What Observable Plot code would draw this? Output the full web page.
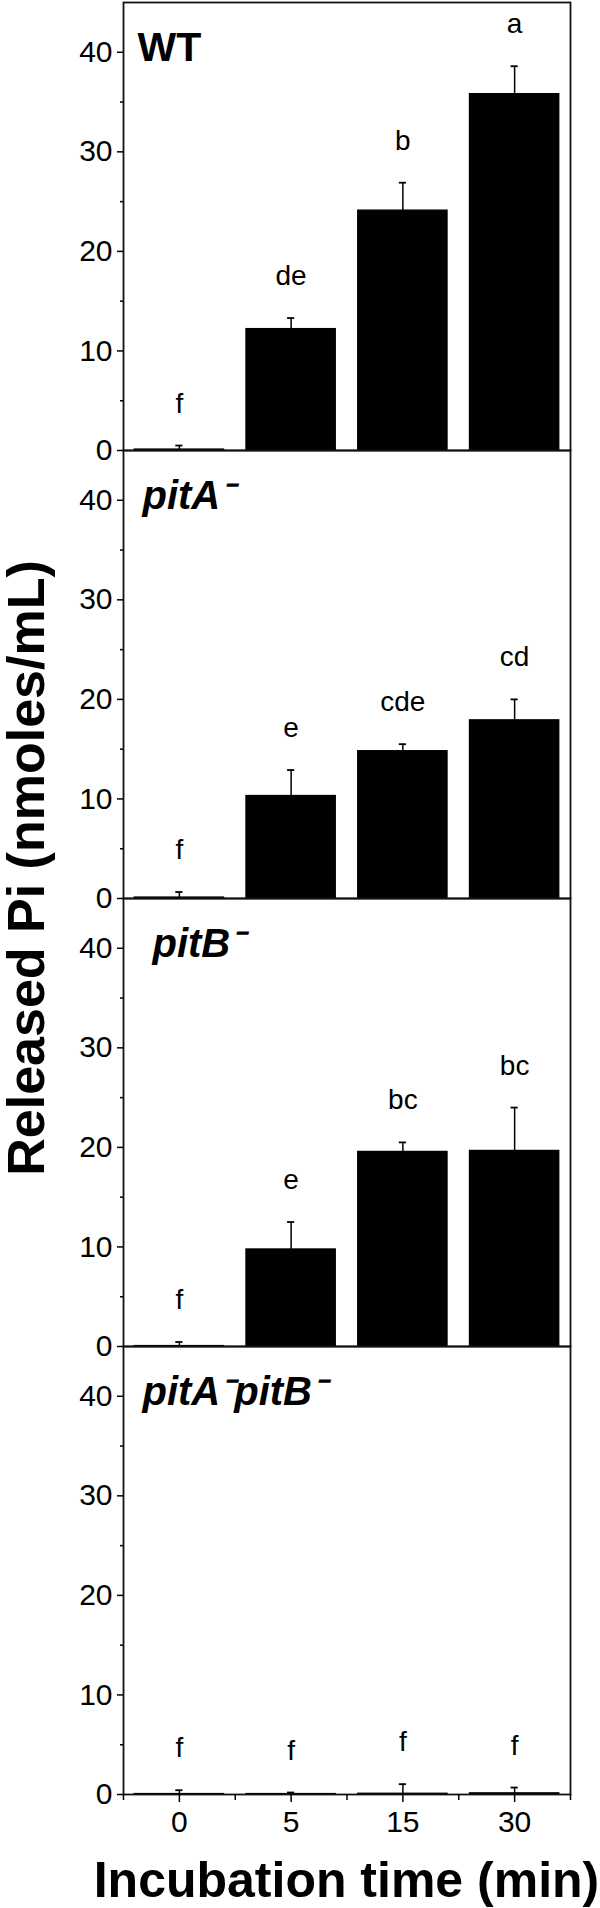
<!DOCTYPE html>
<html>
<head>
<meta charset="utf-8">
<script src="https://cdn.jsdelivr.net/npm/d3@7"></script>
<script src="https://cdn.jsdelivr.net/npm/@observablehq/plot@0.6"></script>
<style>
  html, body { margin: 0; padding: 0; background: #fff; }
  #chart { width: 600px; height: 1908px; }
</style>
</head>
<body>
<div id="chart"></div>
<script>
// ---- data ----
const strains = ["WT", "pitA", "pitB", "pitApitB"];
const strainLabels = ["WT", "pitA\u207B", "pitB\u207B", "pitA\u207BpitB\u207B"];
const times = ["0", "5", "15", "30"];

const wtMean = [0.1, 12.2, 24.1, 35.8];
const wtErr = [0.4, 1.1, 2.8, 2.8];
const wtLetters = ["f", "de", "b", "a"];

const pitAMean = [0.1, 10.3, 14.8, 17.9];
const pitAErr = [0.55, 2.6, 0.7, 2.1];
const pitALetters = ["f", "e", "cde", "cd"];

const pitBMean = [0.05, 9.75, 19.55, 19.65];
const pitBErr = [0.4, 2.75, 0.95, 4.35];
const pitBLetters = ["f", "e", "bc", "bc"];

const dblMean = [0.05, 0.05, 0.08, 0.12];
const dblErr = [0.38, 0.15, 0.96, 0.58];
const dblLetters = ["f", "f", "f", "f"];

const yTicks = [0, 10, 20, 30, 40];
const yMinorTicks = [5, 15, 25, 35];
const yTitle = "Released Pi (nmoles/mL)";
const xTitle = "Incubation time (min)";

// ---- table built from the arrays ----
const means = [wtMean, pitAMean, pitBMean, dblMean];
const errs = [wtErr, pitAErr, pitBErr, dblErr];
const letters = [wtLetters, pitALetters, pitBLetters, dblLetters];
const rows = [];
strains.forEach((s, k) => times.forEach((t, i) => rows.push({
  strain: s, i, time: t, mean: means[k][i], err: errs[k][i], letter: letters[k][i]
})));
const panels = strains.map((s, k) => ({strain: s, label: strainLabels[k]}));

const FONT = "'Liberation Sans', Arial, Helvetica, sans-serif";
const halfBar = 0.4, halfCap = 0.032;
const indices = times.map((t, i) => i);
const bounds = [-0.5, ...indices.map(i => i + 0.5)];

const labelStyle = {fy: "strain", text: "label", frameAnchor: "top-left", textAnchor: "start",
  lineAnchor: "bottom", dy: 58, fontSize: 40, fontWeight: "bold", fill: "black"};

const svg = Plot.plot({
  width: 600,
  height: 1908,
  marginLeft: 123,
  marginRight: 30,
  marginTop: 1,
  marginBottom: 114,
  style: {fontFamily: FONT, background: "white", color: "black", overflow: "visible"},
  x: {domain: [-0.5, times.length - 0.5]},
  y: {domain: [0, 45]},
  fy: {domain: strains, padding: 0, axis: null},
  marks: [
    Plot.rect(rows, {x1: d => d.i - halfBar, x2: d => d.i + halfBar, y1: 0, y2: "mean", fy: "strain",
      fill: "black", stroke: "black", strokeWidth: 1.2}),
    Plot.ruleX(rows, {x: "i", y1: "mean", y2: d => d.mean + d.err, fy: "strain", stroke: "black", strokeWidth: 1.5}),
    Plot.ruleY(rows, {y: d => d.mean + d.err, x1: d => d.i - halfCap, x2: d => d.i + halfCap, fy: "strain",
      stroke: "black", strokeWidth: 1.8}),
    Plot.text(rows, {x: "i", y: d => d.mean + d.err, text: "letter", fy: "strain",
      lineAnchor: "bottom", dy: -33, fontSize: 28, fill: "black"}),
    Plot.text(panels.filter(d => d.strain === "WT"), {...labelStyle, dx: 14, fontSize: 41}),
    Plot.text(panels.filter(d => d.strain === "pitB"), {...labelStyle, dx: 29, fontStyle: "italic"}),
    Plot.text(panels.filter(d => d.strain === "pitA" || d.strain === "pitApitB"),
      {...labelStyle, dx: 19, fontStyle: "italic"}),
    Plot.frame({stroke: "#111", strokeWidth: 1.8}),
    Plot.axisY({ticks: yTicks, tickSize: 6, tickPadding: 5, fontSize: 30, strokeWidth: 1.5, label: null}),
    Plot.axisY({ticks: yMinorTicks, tickSize: 3, tickFormat: () => "", strokeWidth: 1.5, label: null}),
    Plot.axisX({ticks: indices, tickFormat: i => times[i], tickSize: 8, tickPadding: 8, fontSize: 30,
      strokeWidth: 1.5, label: null}),
    Plot.axisX({ticks: bounds, tickSize: 6, tickFormat: () => "", strokeWidth: 1.5, label: null})
  ]
});

const root = d3.select(svg);
root.append("text")
  .attr("transform", "translate(44,868) rotate(-90)")
  .attr("text-anchor", "middle")
  .attr("font-family", FONT)
  .attr("font-weight", "bold")
  .attr("font-size", 52)
  .attr("fill", "black")
  .text(yTitle);
root.append("text")
  .attr("x", 346.5)
  .attr("y", 1897)
  .attr("text-anchor", "middle")
  .attr("font-family", FONT)
  .attr("font-weight", "bold")
  .attr("font-size", 50)
  .attr("fill", "black")
  .text(xTitle);

document.getElementById("chart").appendChild(svg);
</script>
</body>
</html>
